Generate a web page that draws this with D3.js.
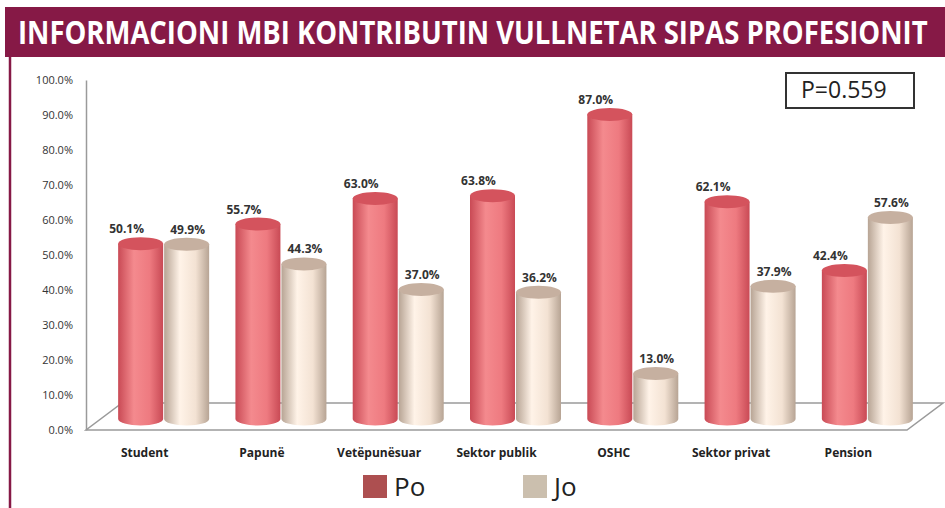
<!DOCTYPE html>
<html>
<head>
<meta charset="utf-8">
<script src="https://cdn.jsdelivr.net/npm/d3@7"></script>
<style>
  html, body { margin: 0; padding: 0; background: #fff; }
  svg { display: block; }
</style>
</head>
<body>
<div id="chart"></div>
<script>
"use strict";

// ── data ──────────────────────────────────────────────────────────────────────
const categories = ["Student", "Papunë", "Vetëpunësuar", "Sektor publik", "OSHC", "Sektor privat", "Pension"];
const seriesNames = ["Po", "Jo"];
const poValues = [0.501, 0.557, 0.630, 0.638, 0.870, 0.621, 0.424];
const joValues = [0.499, 0.443, 0.370, 0.362, 0.130, 0.379, 0.576];
const yTicks = [0, 0.1, 0.2, 0.3, 0.4, 0.5, 0.6, 0.7, 0.8, 0.9, 1.0];
const titleText = "INFORMACIONI MBI KONTRIBUTIN VULLNETAR SIPAS PROFESIONIT";
const pText = "P=0.559";

// ── layout ────────────────────────────────────────────────────────────────────
const W = 945, H = 508;
const depthX = 36, depthY = -27;   // floor depth (back edge offset)
const barDX = 19, barDY = -11;     // bars stand mid-depth
const rx = 22.5, ry = 6.5;

const svg = d3.select("#chart").append("svg")
  .attr("width", W).attr("height", H);

const defs = svg.append("defs");
function cylGrad(id, edge, mid, light) {
  const g = defs.append("linearGradient").attr("id", id)
    .attr("x1", 0).attr("x2", 1).attr("y1", 0).attr("y2", 0);
  g.append("stop").attr("offset", "0%").attr("stop-color", edge);
  g.append("stop").attr("offset", "35%").attr("stop-color", light);
  g.append("stop").attr("offset", "70%").attr("stop-color", mid);
  g.append("stop").attr("offset", "100%").attr("stop-color", edge);
}
cylGrad("grad-po", "#c94a55", "#ee7a80", "#f48a8e");
cylGrad("grad-jo", "#b7a494", "#f3e2d3", "#fff3e8");
const topColor = { Po: "#d4535d", Jo: "#c6b0a0" };
const legendColor = { Po: "#ad4f50", Jo: "#cbbfae" };

// ── title bar & frame ─────────────────────────────────────────────────────────
svg.append("rect").attr("x", 5).attr("y", 7).attr("width", W - 5).attr("height", 50)
  .attr("fill", "#861946");
svg.append("line").attr("x1", 10).attr("x2", 10).attr("y1", 57).attr("y2", H)
  .attr("stroke", "#861946").attr("stroke-width", 2.5);
const title = svg.append("text")
  .attr("x", 0).attr("y", 0)
  .attr("font-family", "'Open Sans', sans-serif")
  .attr("font-weight", "bold").attr("font-size", 32)
  .attr("fill", "#fff").text(titleText);
// squeeze to the condensed width of the original heading
const tw = title.node().getComputedTextLength();
title.attr("transform", `translate(18,44) scale(${910 / tw},1)`);

// ── scales ────────────────────────────────────────────────────────────────────
const x = d3.scaleBand().domain(categories).range([86, 907]);
const y = d3.scaleLinear().domain([0, 1]).range([430, 80]);
const xs = d3.scaleBand().domain(seriesNames).range([-46, 46]);

// ── floor ─────────────────────────────────────────────────────────────────────
const x0 = x.range()[0], x1 = x.range()[1], y0 = y(0);
svg.append("path")
  .attr("d", `M${x0},${y0}L${x1},${y0}L${x1 + depthX},${y0 + depthY}L${x0 + depthX},${y0 + depthY}Z`)
  .attr("fill", "#fff").attr("stroke", "#9a9a9a").attr("stroke-width", 1.5);

// ── y axis ────────────────────────────────────────────────────────────────────
svg.append("g").attr("transform", `translate(${x0},0)`)
  .call(d3.axisLeft(y).tickValues(yTicks).tickSize(0).tickPadding(13)
    .tickFormat(d3.format(".1%")))
  .call(ax => {
    ax.select(".domain").attr("stroke", "#9a9a9a").attr("stroke-width", 1.5);
    ax.selectAll("text").attr("fill", "#333").attr("font-size", 11)
      .attr("font-family", "'Open Sans', sans-serif");
  });

// ── x labels ──────────────────────────────────────────────────────────────────
svg.append("g").selectAll("text").data(categories).enter().append("text")
  .attr("x", d => x(d) + x.bandwidth() / 2)
  .attr("y", 457)
  .attr("text-anchor", "middle")
  .attr("font-family", "'Open Sans', sans-serif")
  .attr("font-weight", "bold").attr("font-size", 12).attr("fill", "#222")
  .text(d => d);

// ── cylinders ────────────────────────────────────────────────────────────────
const bars = [];
categories.forEach((c, i) => {
  bars.push({ cat: c, s: "Po", v: poValues[i] });
  bars.push({ cat: c, s: "Jo", v: joValues[i] });
});
const cx = d => x(d.cat) + x.bandwidth() / 2 + barDX + xs(d.s) + xs.bandwidth() / 2;
const topY = d => y(d.v) + barDY;
const botY = y(0) + barDY;

const bar = svg.append("g").selectAll("g").data(bars).enter().append("g");
bar.append("path")
  .attr("d", d => {
    const c = cx(d), t = topY(d);
    return `M${c - rx},${t}L${c - rx},${botY}A${rx},${ry} 0 0 0 ${c + rx},${botY}L${c + rx},${t}Z`;
  })
  .attr("fill", d => `url(#grad-${d.s.toLowerCase()})`);
bar.append("ellipse")
  .attr("cx", cx).attr("cy", topY).attr("rx", rx).attr("ry", ry)
  .attr("fill", d => topColor[d.s]);

// ── data labels ───────────────────────────────────────────────────────────────
const labelShift = { Po: -14, Jo: 1 };
svg.append("g").selectAll("text").data(bars).enter().append("text")
  .attr("x", d => cx(d) + labelShift[d.s])
  .attr("y", d => topY(d) - ry - 4)
  .attr("text-anchor", "middle")
  .attr("font-family", "'Open Sans', sans-serif")
  .attr("font-weight", "bold").attr("font-size", 12).attr("fill", "#333")
  .text(d => d3.format(".1%")(d.v));

// ── P box ─────────────────────────────────────────────────────────────────────
svg.append("rect").attr("x", 786).attr("y", 73).attr("width", 128).attr("height", 35)
  .attr("fill", "#fff").attr("stroke", "#333").attr("stroke-width", 2);
svg.append("text").attr("x", 801).attr("y", 98)
  .attr("font-family", "'Open Sans', sans-serif").attr("font-size", 23).attr("fill", "#222")
  .text(pText);

// ── legend ────────────────────────────────────────────────────────────────────
const legend = svg.append("g").selectAll("g").data(seriesNames).enter().append("g")
  .attr("transform", (d, i) => `translate(${363 + i * 160},475)`);
legend.append("rect").attr("width", 24).attr("height", 23).attr("fill", d => legendColor[d]);
legend.append("text").attr("x", 31).attr("y", 21)
  .attr("font-family", "'Open Sans', sans-serif").attr("font-size", 26).attr("fill", "#222")
  .text(d => d);
</script>
</body>
</html>
